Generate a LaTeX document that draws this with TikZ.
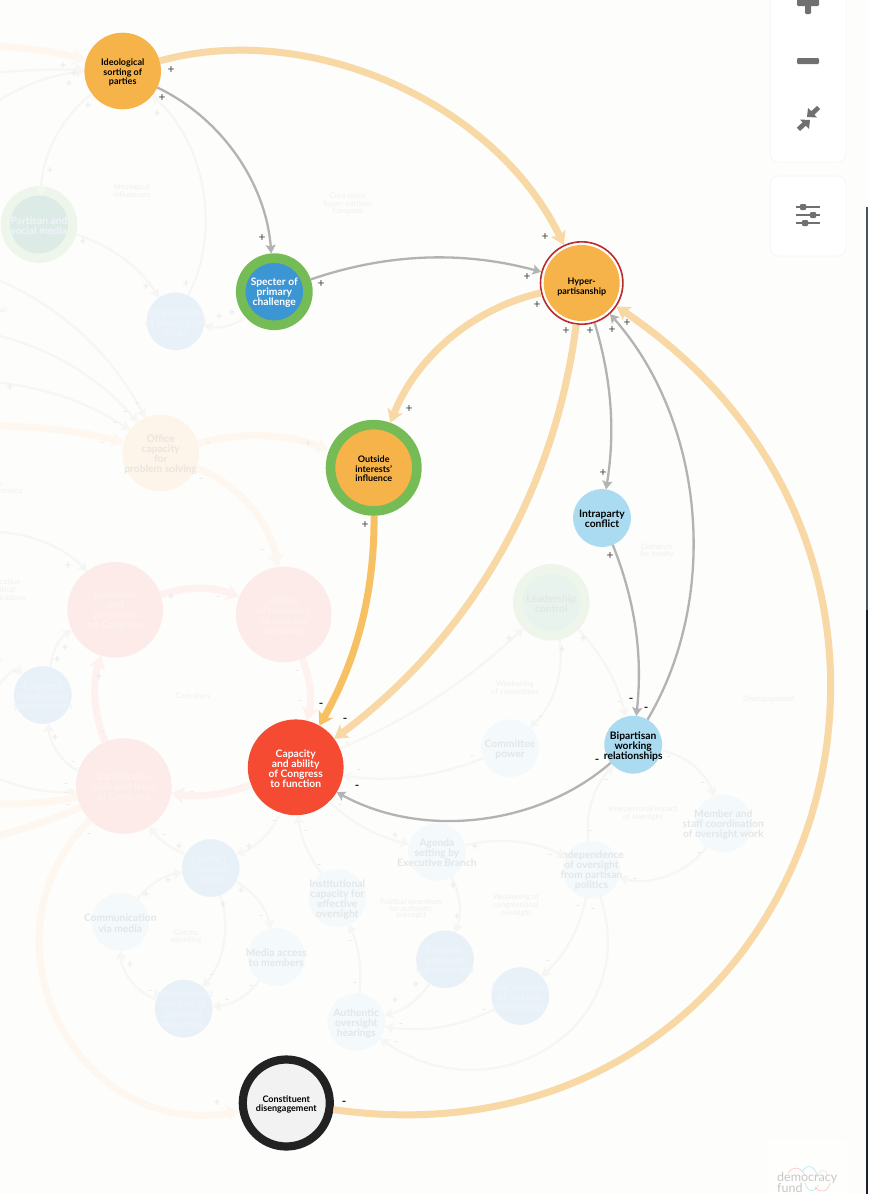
\documentclass[tikz,border=0pt]{standalone}
\usepackage{fontspec}
\setmainfont{Lato}
\usetikzlibrary{arrows.meta}
\definecolor{bgc}{HTML}{FDFDFB}
\definecolor{greyl}{HTML}{B3B3B3}
\definecolor{orgl}{HTML}{F8D8A5}
\definecolor{orgs}{HTML}{F6C063}
\definecolor{orgn}{HTML}{F6B349}
\definecolor{grn}{HTML}{75BC56}
\definecolor{blu}{HTML}{3C96D4}
\definecolor{lblu}{HTML}{ABDBF0}
\definecolor{redn}{HTML}{F44B32}
\definecolor{ringr}{HTML}{BC2A2E}
\definecolor{blk}{HTML}{222222}
\definecolor{cons}{HTML}{F2F2F3}
\definecolor{fline}{HTML}{F6F6F4}
\definecolor{fpeach}{HTML}{FDF7EF}
\definecolor{fpink}{HTML}{FDF2EF}
\definecolor{nred}{HTML}{FCEBE8}
\definecolor{npeach}{HTML}{FDF4EA}
\definecolor{nblue}{HTML}{E8F0F8}
\definecolor{nlb}{HTML}{F4F9FB}
\definecolor{ngreen}{HTML}{EEF6EC}
\definecolor{ngi}{HTML}{DDEBE7}
\definecolor{ngj}{HTML}{E9F3ED}
\definecolor{ftext}{HTML}{E4E7E8}
\definecolor{fwhite}{HTML}{EFF4FA}
\definecolor{fredt}{HTML}{FDF2F0}
\definecolor{fpt}{HTML}{EBE6DF}
\definecolor{fsign}{HTML}{E9E9E7}
\definecolor{flab}{HTML}{F0F0EE}
\definecolor{icon}{HTML}{707070}
\definecolor{stripa}{HTML}{4A5260}
\definecolor{stripb}{HTML}{1A2233}
\tikzset{
  base/.style={line cap=butt,looseness=.9},
  thinm/.style={base,draw=greyl,line width=2.3pt,-{Stealth[length=8.5pt,width=10pt,inset=1.5pt]}},
  thickm/.style={base,draw=orgl,line width=7pt,-{Stealth[length=13pt,width=16pt,inset=3pt]}},
  thinf/.style={base,draw=fline,line width=2.2pt,-{Stealth[length=8.5pt,width=10pt,inset=1.5pt]}},
  thickf/.style={base,draw=fpeach,line width=7pt,-{Stealth[length=13pt,width=16pt,inset=3pt]}},
  thickp/.style={thickf,draw=fpink},
  plainf/.style={base,draw=fpeach,line width=7pt},
  circ/.style={circle,inner sep=0pt,outer sep=0pt,minimum size=#1},
  bigt/.style={align=center,inner sep=0pt,yshift=-1.5pt,font=\fontsize{9}{9.2}\selectfont\bfseries,text=black},
  midt/.style={align=center,inner sep=0pt,yshift=-1.2pt,font=\fontsize{10.3}{10}\selectfont\bfseries,text=black},
  whitet/.style={midt,text=white},
  ft/.style={midt,text=ftext},
  fw/.style={midt,text=fwhite},
  fp/.style={midt,text=fpt},
  fr/.style={midt,text=fredt},
  sgd/.style={inner sep=0pt,font=\fontsize{12}{12}\selectfont,text=black!75},
  sgm/.style={sgd,font=\fontsize{12}{12}\selectfont\bfseries,text=black!85},
  sgf/.style={inner sep=0pt,font=\fontsize{12}{12}\selectfont,text=fsign},
  flb/.style={align=center,inner sep=0pt,font=\fontsize{7.6}{6.6}\selectfont,text=flab},
  panel/.style={fill=white,draw=black!3,line width=1pt,rounded corners=8pt},
}
\newcommand{\cn}[6]{\node[#1] (#3) at (#4,-#5) {}; \node[#2] (#3t) at (#3) {#6};}
\begin{document}
\begin{tikzpicture}[x=1pt,y=1pt]
\clip (0,0) rectangle (868,-1194);
\fill[bgc] (0,0) rectangle (868,-1194);
% faded nodes
\cn{circ=76.6,fill=ngreen}{fw}{partr}{39}{224.5}{}
\cn{circ=58,fill=ngi}{fw}{part}{39}{224.5}{Partisan and\\social media}
\cn{circ=57.6,fill=nblue}{fw}{prom}{175.5}{321.3}{Prominence\\of ideological\\elites}
\cn{circ=76.6,fill=npeach}{fp}{office}{160.7}{453}{Office\\capacity\\for\\problem solving}
\cn{circ=95.6,fill=nred}{fr}{demands}{115.2}{609.8}{Demands\\and\\pressures\\on Congress}
\cn{circ=95.6,fill=nred}{fr}{ability}{283.8}{614.5}{Ability\\of members\\to process\\demands}
\cn{circ=57.6,fill=nblue}{fw}{engaged}{42.8}{695}{Engaged\\constituent\\participation}
\cn{circ=95.6,fill=nred}{fr}{satis}{123.8}{786}{Satisfaction\\with and trust\\in Congress}
\cn{circ=76.6,fill=ngreen}{ft}{leadr}{551.3}{602.3}{}
\cn{circ=58,fill=ngj}{ft}{lead}{551.3}{602.3}{Leadership\\control}
\cn{circ=57.6,fill=nlb}{ft}{comm}{510}{748.3}{Committee\\power}
\cn{circ=57.6,fill=nlb}{ft}{agenda}{437}{852}{Agenda\\setting by\\Executive Branch}
\cn{circ=57.6,fill=nlb}{ft}{indep}{591.5}{869.7}{Independence\\of oversight\\from partisan\\politics}
\cn{circ=57.6,fill=nlb}{ft}{member}{723.3}{823.5}{Member and\\staff coordination\\of oversight work}
\cn{circ=57.6,fill=nlb}{ft}{inst}{337.3}{898}{Institutional\\capacity for\\effective\\oversight}
\cn{circ=57.6,fill=nblue}{fw}{conflict}{210.7}{868}{Conflict-\\focused\\media}
\cn{circ=57.6,fill=nlb}{ft}{commu}{120.3}{922}{Communication\\via media}
\cn{circ=57.6,fill=nlb}{ft}{access}{276.3}{957}{Media access\\to members}
\cn{circ=57.6,fill=nblue}{fw}{info}{183.7}{1008.7}{Infotainment\\instead of\\political\\reporting}
\cn{circ=57.6,fill=nlb}{ft}{auth}{356.3}{1022}{Authentic\\oversight\\hearings}
\cn{circ=57.6,fill=nblue}{fw}{press}{445}{959.3}{Outside\\pressure\\for oversight}
\cn{circ=57.6,fill=nblue}{fw}{inact}{520.3}{996}{Inactiveness\\of outside\\watchdogs}
% main nodes
\cn{circ=76.6,fill=orgn}{bigt}{ideol}{122.7}{71}{Ideological\\sorting of\\parties}
\cn{circ=67.2,fill=blu,draw=grn,line width=9.6pt,outer sep=4.8pt}{whitet}{spec}{274.3}{291.7}{Specter of\\primary\\challenge}
\cn{circ=82.4,fill=white,draw=ringr,line width=1.6pt,outer sep=.8pt}{bigt}{hyper}{581.7}{283}{}
\cn{circ=76,fill=orgn}{bigt,yshift=-2.5pt}{hyperin}{581.7}{283}{Hyper-\\partisanship}
\cn{circ=86.4,fill=orgn,draw=grn,line width=9.6pt,outer sep=4.8pt}{bigt,yshift=.5pt}{outs}{373.7}{467.8}{Outside\\interests'\\influence}
\cn{circ=95.8,fill=redn}{whitet}{cap}{295.7}{767.3}{Capacity\\and ability\\of Congress\\to function}
\cn{circ=57.8,fill=lblu}{midt}{intra}{602}{518}{Intraparty\\conflict}
\cn{circ=57.8,fill=lblu}{midt,yshift=-.8pt}{bip}{633.2}{744.7}{Bipartisan\\working\\relationships}
\cn{circ=87,fill=cons,draw=blk,line width=8.2pt,outer sep=4.1pt}{bigt}{cons}{286.3}{1103}{Constituent\\disengagement}
% free ends
\coordinate (l1) at (-8,-46);
\coordinate (l2) at (-8,-73);
\coordinate (l3) at (-8,-105);
\coordinate (l4) at (-8,-277);
\coordinate (l5) at (-8,-334);
\coordinate (l6) at (-8,-382);
\coordinate (l7) at (-8,-426);
\coordinate (l8) at (-8,-532);
\coordinate (l9) at (-8,-692);
\coordinate (l10) at (-8,-776);
\coordinate (l11) at (-8,-804);
\coordinate (l12) at (-8,-837);
% faded connectors
\draw[thickf] (l1) to[bend left=6] (ideol);
\draw[thinf] (l2) to[bend left=3] (ideol);
\draw[thinf] (l3) to[bend left=14] (ideol);
\draw[thinf] (ideol) to[bend right=25] (part);
\draw[thinf] (partr) to[bend left=20] (prom);
\draw[thinf] (prom) to[bend right=38] (ideol);
\draw[thinf] (spec) to[bend left=25] (prom);
\draw[thinf] (l4) to[bend left=20] (office);
\draw[thinf] (l5) to[bend left=18] (office);
\draw[thinf] (l6) to[bend left=14] (office);
\draw[thickf] (l7) to[bend left=7] (office);
\draw[thickf] (office) to[bend left=18] (outs);
\draw[thickf] (office) to[bend left=30] (ability);
\draw[thinf] (l8) to[bend left=22] (demands);
\draw[thickp] (demands) to[bend left=20] (ability);
\draw[thickp] (ability) to[bend left=18] (cap);
\draw[thickp] (cap) to[bend left=15] (satis);
\draw[thickp] (satis) to[bend left=20] (demands);
\draw[thinf] (satis) to[bend left=30] (engaged);
\draw[thinf] (engaged) to[bend left=25] (demands);
\draw[thinf] (l9) to (engaged);
\draw[thinf] (l10) to[bend right=12] (satis);
\draw[plainf] (satis) to[bend left=6] (l11);
\draw[plainf] (satis) to[bend left=5] (l12);
\draw[thickf] (satis) to[out=225,in=190,looseness=1.3] (cons);
\draw[thinf] (conflict) to[bend left=15] (satis);
\draw[thinf] (cap) to[bend left=22] (conflict);
\draw[thinf] (commu) to[bend left=22] (conflict);
\draw[thinf] (conflict) to[bend left=25] (access);
\draw[thinf] (conflict) to[bend left=30] (info);
\draw[thinf] (access) to[bend left=25] (info);
\draw[thinf] (info) to[bend left=35] (commu);
\draw[thinf] (inst) to[bend left=15] (cap);
\draw[thinf] (auth) to[bend right=15] (inst);
\draw[thinf] (cap) to[bend right=15] (agenda);
\draw[thinf] (agenda) to[bend left=20] (indep);
\draw[thinf] (agenda) to[bend left=25] (press);
\draw[thinf] (press) to[bend left=22] (auth);
\draw[thinf] (inact) to[bend left=18] (auth);
\draw[thinf] (indep) to[out=-72,in=-35,looseness=1.35] (auth);
\draw[thinf] (indep) to[bend left=18] (inact);
\draw[thinf] (indep) to[bend left=25] (bip);
\draw[thinf] (member) to[bend left=35] (indep);
\draw[thinf] (bip) to[bend left=30] (member);
\draw[thinf] (leadr) to[bend left=15] (bip);
\draw[thinf] (leadr) to[bend left=28] (comm);
\draw[thinf] (cap) to[bend right=10] (leadr);
\draw[thinf] (comm) to[bend left=15] (cap);
% main connectors
\draw[thickm] (ideol) to[bend left=40] (hyper);
\draw[thinm] (ideol) to[bend left=30] (spec);
\draw[thinm] (spec) to[bend left=17] (hyper);
\draw[thickm] (hyper) to[bend right=28] (outs);
\draw[thickm] (hyper) to[bend left=23] (cap);
\draw[thinm] (hyper) to[bend left=13] (intra);
\draw[thinm] (bip) to[bend right=36] (hyper);
\draw[thinm] (intra) to[bend left=14] (bip);
\draw[thickm,draw=orgs] (outs) to[bend left=15] (cap);
\draw[thinm] (bip) to[bend left=35] (cap);
\draw[thickm] (cons) to[out=-8,in=-34,looseness=1.45] (hyper);
% signs
\foreach \x/\y [count=\i] in {171/70,162/98,262/238,321/284,545/237,527/277,537/305,566/331,590/331,612/330,627/323,409/409,365/525,603/473,610/556}
  \node[sgd] (dp\i) at (\x,-\y) {+};
\foreach \x/\y [count=\i] in {321/705,345/720,357/787,631/700,646/709,597/761,344/1103}
  \node[sgm] (dm\i) at (\x,-\y) {-};
\foreach \x/\y [count=\i] in {63/66,74/74,69/84,88/106,157/114,50/171,83/242,146/287,186/284,219/317,232/313,10/388,308/444,68/566,171/597,65/648,57/660,99/677,55/738,179/847,249/847,395/836,168/881,146/895,241/891,223/905,130/965,416/985,395/1001,217/1103,509/639,583/639,562/650,475/847,453/886,457/917}
  \node[sgf] (fp\i) at (\x,-\y) {+};
\foreach \x/\y [count=\i] in {102/444,115/424,125/413,137/405,208/444,201/480,262/551,218/598,297/672,300/702,103/733,73/763,66/785,66/794,192/793,241/787,347/744,359/771,68/806,89/835,164/836,274/822,306/832,319/866,340/806,261/917,350/942,212/976,150/992,251/987,227/1001,355/984,401/1025,396/1043,619/703,541/718,472/757,669/758,606/781,703/784,550/856,590/832,699/854,635/880,578/907,593/910,548/962,484/1011}
  \node[sgf] (fm\i) at (\x,-\y) {-};
% loop labels
\node[flb] (la1) at (132,-191) {Ideological\\influencers};
\node[flb] (la2) at (348,-204) {Core story:\\hyper-partisan\\Congress};
\node[flb] (la3) at (-15,-488) {Core story:\\Congress performance};
\node[flb,anchor=east] (la4) at (7,-310) {nal};
\node[flb] (la5) at (-2,-590) {Simplification\\of political\\communications};
\node[flb,anchor=east] (la6) at (2,-660) {s};
\node[flb] (la7) at (193,-696) {Core story};
\node[flb] (la8) at (186,-937) {Gotcha\\reporting};
\node[flb] (la9) at (411,-909) {Political incentives\\for authentic\\oversight};
\node[flb] (la10) at (516,-905) {Weakening of\\congressional\\oversight};
\node[flb] (la11) at (515,-688) {Weakening\\of committees};
\node[flb] (la12) at (657,-551) {Demands\\for loyalty};
\node[flb] (la13) at (769,-699) {Disengagement};
\node[flb] (la14) at (643,-813) {Interpersonal impact\\of oversight};
% side panels
\draw[panel] (770,20) rectangle (846,-162);
\draw[panel] (770,-176) rectangle (846,-256);
\fill[icon,rounded corners=1.2pt] (797,2) rectangle (819,-6);
\fill[icon,rounded corners=1.2pt] (805,2) rectangle (811,-14);
\fill[icon,rounded corners=1.2pt] (797,-58) rectangle (819,-64);
\fill[icon] (807,-117) -- (808,-108) -- (811.2,-111.2) -- (817,-106) -- (820,-109) -- (814.4,-114.8) -- (817,-117.5) -- cycle;
\fill[icon] (810,-120) -- (809,-129) -- (805.8,-125.8) -- (800,-131) -- (796.8,-127.8) -- (802.6,-122.2) -- (800,-119.5) -- cycle;
\foreach \yy/\kx in {207/803,215/813,223/805}{
  \fill[icon] (796,-\yy+.8) rectangle (820,-\yy-.8);
  \fill[icon,rounded corners=1pt] (\kx-3,-\yy+3) rectangle (\kx+3,-\yy-3);
}
% logo
\fill[white!60!bgc] (767,-1140) rectangle (847,-1194);
\draw[red!25,line width=.6pt] (788,-1173) .. controls (793,-1166) and (800,-1166) .. (805,-1175);
\draw[cyan!30,line width=.6pt] (802,-1172) .. controls (806,-1164) and (814,-1164) .. (818,-1177);
\draw[black!10,line width=.6pt] (818,-1175) .. controls (820,-1169) and (826,-1169) .. (828,-1175);
\draw[cyan!30,line width=.6pt] (805,-1183) .. controls (808,-1193) and (815,-1193) .. (818,-1185);
\draw[red!25,line width=.6pt] (815,-1187) .. controls (820,-1194) and (828,-1192) .. (830,-1183);
\node[anchor=west,inner sep=0pt,font=\fontsize{12.5}{12}\selectfont,text=black!22] (logo1) at (777,-1178) {democracy};
\node[anchor=west,inner sep=0pt,font=\fontsize{12.5}{12}\selectfont,text=black!22] (logo2) at (777,-1188) {fund};
% right edge strip
\fill[stripa] (866,-207) rectangle (868,-610);
\fill[stripb] (866,-610) rectangle (868,-1194);
\end{tikzpicture}
\end{document}
